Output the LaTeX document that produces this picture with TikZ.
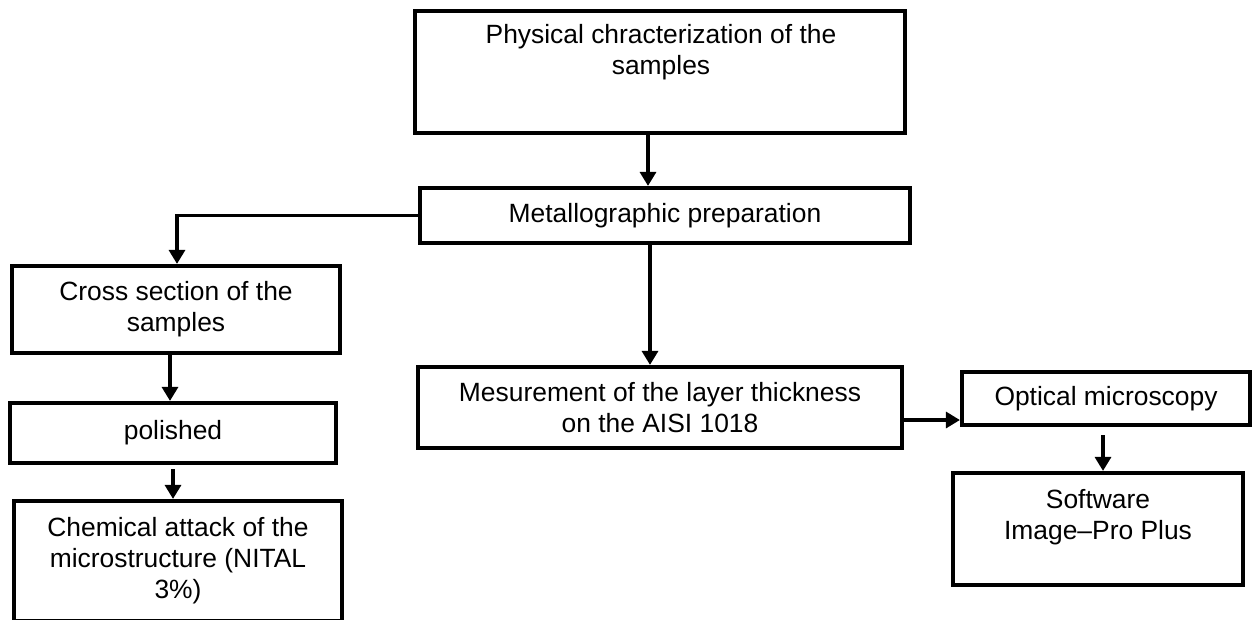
\documentclass[tikz,border=0pt]{standalone}
\usepackage{fontspec}
\setmainfont{Liberation Sans}
\usetikzlibrary{arrows.meta,calc}
\begin{document}
\begin{tikzpicture}[x=1pt,y=-1pt,
  boxnode/.style={draw=black, line width=4.2pt, fill=white, inner sep=0pt, align=center,
    font=\fontsize{26.4}{31}\selectfont},
  txt/.style={inner sep=0pt, align=center, font=\fontsize{26.4}{31}\selectfont},
  arr/.style={line width=3.2pt, -{Triangle[length=14pt,width=16pt]}}]
\useasboundingbox (0,0) rectangle (1252,619);
\fill[white] (0,0) rectangle (1252,619);
% boxes
\node[boxnode, minimum width=490pt, minimum height=122pt] (phys) at (660,72) {};
\node[txt] (physT) at (661,52.5) {Physical chracterization of the\\samples};
\node[boxnode, minimum width=490pt, minimum height=55pt] (metal) at (665,215.5) {Metallographic preparation};
\node[boxnode, minimum width=328pt, minimum height=87pt] (cross) at (176,309.5) {Cross section of the\\samples};
\node[boxnode, minimum width=326pt, minimum height=60pt] (pol) at (173,433) {polished};
\node[boxnode, minimum width=328pt, minimum height=120pt] (chem) at (178,561) {Chemical attack of the\\microstructure (NITAL\\3\%)};
\node[boxnode, minimum width=484pt, minimum height=81pt] (meas) at (660,407.5) {Mesurement of the layer thickness\\on the AISI 1018};
\node[boxnode, minimum width=288pt, minimum height=53pt] (opt) at (1106,398.5) {Optical microscopy};
\node[boxnode, minimum width=290pt, minimum height=112pt] (soft) at (1098,529) {};
\node[txt] (softT) at (1098,517) {Software\\Image--Pro Plus};
% helper coordinates
\coordinate (x648) at (648,0);
\coordinate (x650) at (650,0);
\coordinate (x177) at (177,0);
\coordinate (x170) at (170,0);
\coordinate (x173) at (173,0);
\coordinate (x1103) at (1103,0);
\coordinate (y420) at (0,420);
% connectors
\draw[arr] (phys.south -| x648) -- (metal.north -| x648);
\draw[arr] (metal.west) -| (cross.north -| x177);
\draw[arr] (metal.south -| x650) -- (meas.north -| x650);
\draw[arr] (cross.south -| x170) -- (pol.north -| x170);
\draw[arr] ($(pol.south -| x173)+(0,4)$) -- (chem.north -| x173);
\draw[arr] (meas.east |- y420) -- (opt.west |- y420);
\draw[arr] ($(opt.south -| x1103)+(0,8)$) -- (soft.north -| x1103);
\end{tikzpicture}
\end{document}
